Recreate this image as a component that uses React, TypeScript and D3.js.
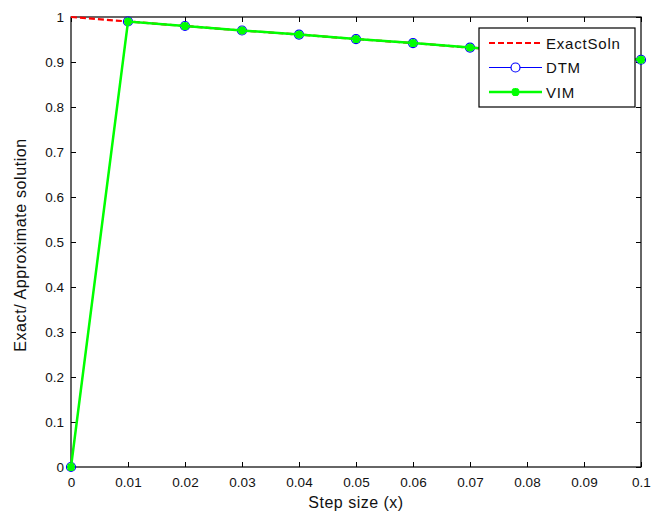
import { useEffect, useRef } from 'react';
import * as d3 from 'd3';

const stepSizes = [0, 0.01, 0.02, 0.03, 0.04, 0.05, 0.06, 0.07, 0.08, 0.09, 0.1];
const exactSoln = [1, 0.99, 0.98, 0.97, 0.961, 0.951, 0.942, 0.932, 0.923, 0.914, 0.905];
const dtmValues = [0, 0.99, 0.98, 0.97, 0.961, 0.951, 0.942, 0.932, 0.923, 0.914, 0.905];
const vimValues = [0, 0.99, 0.98, 0.97, 0.961, 0.951, 0.942, 0.932, 0.923, 0.914, 0.905];
const xTicks = [0, 0.01, 0.02, 0.03, 0.04, 0.05, 0.06, 0.07, 0.08, 0.09, 0.1];
const yTicks = [0, 0.1, 0.2, 0.3, 0.4, 0.5, 0.6, 0.7, 0.8, 0.9, 1];
const legendNames = ['ExactSoln', 'DTM', 'VIM'];

const App = () => {
    const svgRef = useRef<SVGSVGElement>(null);

    useEffect(() => {
        const svg = d3.select(svgRef.current);
        svg.selectAll('*').remove();

        const width = 664;
        const height = 513;
        const margin = { top: 17, right: 23, bottom: 46, left: 71 };
        const font = '"Liberation Sans", Arial, sans-serif';
        const ink = '#111';

        const x = d3.scaleLinear().domain([0, 0.1]).range([margin.left, width - margin.right]);
        const y = d3.scaleLinear().domain([0, 1]).range([height - margin.bottom, margin.top]);

        svg.append('rect').attr('width', width).attr('height', height).attr('fill', '#fff');

        const fmt = (d) => (d === 0 ? '0' : d3.format('~g')(d));

        // bottom + top axes (ticks point inward, matlab style)
        svg.append('g')
            .attr('transform', `translate(0,${y(0)})`)
            .call(d3.axisBottom(x).tickValues(xTicks).tickFormat(fmt).tickSizeInner(-5).tickSizeOuter(0).tickPadding(10))
            .call((g) => g.select('.domain').remove())
            .call((g) => g.selectAll('text').attr('font-family', font).attr('font-size', 13.5).attr('fill', ink));

        svg.append('g')
            .attr('transform', `translate(0,${y(1)})`)
            .call(d3.axisTop(x).tickValues(xTicks).tickFormat(() => '').tickSizeInner(-5).tickSizeOuter(0))
            .call((g) => g.select('.domain').remove());

        svg.append('g')
            .attr('transform', `translate(${x(0)},0)`)
            .call(d3.axisLeft(y).tickValues(yTicks).tickFormat(fmt).tickSizeInner(-5).tickSizeOuter(0).tickPadding(7))
            .call((g) => g.select('.domain').remove())
            .call((g) => g.selectAll('text').attr('font-family', font).attr('font-size', 13.5).attr('fill', ink));

        svg.append('g')
            .attr('transform', `translate(${x(0.1)},0)`)
            .call(d3.axisRight(y).tickValues(yTicks).tickFormat(() => '').tickSizeInner(-5).tickSizeOuter(0))
            .call((g) => g.select('.domain').remove());

        svg.append('rect')
            .attr('x', x(0))
            .attr('y', y(1))
            .attr('width', x(0.1) - x(0))
            .attr('height', y(0) - y(1))
            .attr('fill', 'none')
            .attr('stroke', '#000')
            .attr('stroke-width', 1.2);

        const line = d3
            .line<number>()
            .x((d, i) => x(stepSizes[i]))
            .y((d) => y(d));

        // exact solution
        svg.append('path')
            .datum(exactSoln)
            .attr('fill', 'none')
            .attr('stroke', '#ff0000')
            .attr('stroke-width', 2.2)
            .attr('stroke-dasharray', '6,3')
            .attr('d', line);

        // DTM
        svg.append('path')
            .datum(dtmValues)
            .attr('fill', 'none')
            .attr('stroke', '#0000ff')
            .attr('stroke-width', 1)
            .attr('d', line);

        svg.selectAll('.dtm-dot')
            .data(dtmValues)
            .enter()
            .append('circle')
            .attr('class', 'dtm-dot')
            .attr('cx', (d, i) => x(stepSizes[i]))
            .attr('cy', (d) => y(d))
            .attr('r', 4.5)
            .attr('fill', 'none')
            .attr('stroke', '#0000ff')
            .attr('stroke-width', 1.2);

        // VIM
        svg.append('path')
            .datum(vimValues)
            .attr('fill', 'none')
            .attr('stroke', '#00ff00')
            .attr('stroke-width', 2.5)
            .attr('d', line);

        const star = (g, cx, cy) => {
            const s = 4;
            const d = 3;
            g.append('path')
                .attr(
                    'd',
                    `M${cx - s},${cy}L${cx + s},${cy}M${cx},${cy - s}L${cx},${cy + s}` +
                        `M${cx - d},${cy - d}L${cx + d},${cy + d}M${cx - d},${cy + d}L${cx + d},${cy - d}`,
                )
                .attr('stroke', '#00ff00')
                .attr('stroke-width', 2.5)
                .attr('fill', 'none');
        };

        const vimDots = svg.append('g');
        vimValues.forEach((v, i) => star(vimDots, x(stepSizes[i]), y(v)));

        // legend
        const legend = svg.append('g').attr('transform', 'translate(479,28)');
        legend.append('rect')
            .attr('width', 156)
            .attr('height', 79)
            .attr('fill', '#fff')
            .attr('stroke', '#000')
            .attr('stroke-width', 1.2);

        legendNames.forEach((name, i) => {
            const row = legend.append('g').attr('transform', `translate(0,${15 + i * 24.5})`);
            const ln = row.append('line').attr('x1', 10).attr('x2', 63).attr('y1', 0).attr('y2', 0);
            if (i === 0) {
                ln.attr('stroke', '#ff0000').attr('stroke-width', 2.2).attr('stroke-dasharray', '6,3');
            } else if (i === 1) {
                ln.attr('stroke', '#0000ff').attr('stroke-width', 1);
                row.append('circle').attr('cx', 36.5).attr('cy', 0).attr('r', 4.5)
                    .attr('fill', '#fff').attr('stroke', '#0000ff').attr('stroke-width', 1.2);
            } else {
                ln.attr('stroke', '#00ff00').attr('stroke-width', 2.5);
                star(row, 36.5, 0);
            }
            row.append('text')
                .attr('x', 67)
                .attr('y', 5.5)
                .attr('font-family', font)
                .attr('font-size', 15)
                .attr('letter-spacing', 0.8)
                .attr('fill', ink)
                .text(name);
        });

        // axis labels
        svg.append('text')
            .attr('x', (x(0) + x(0.1)) / 2)
            .attr('y', 508)
            .attr('text-anchor', 'middle')
            .attr('font-family', font)
            .attr('font-size', 16)
            .attr('letter-spacing', 0.5)
            .attr('fill', ink)
            .text('Step size (x)');

        svg.append('text')
            .attr('transform', 'rotate(-90)')
            .attr('x', -245)
            .attr('y', 26)
            .attr('text-anchor', 'middle')
            .attr('font-family', font)
            .attr('font-size', 16)
            .attr('letter-spacing', 0.6)
            .attr('fill', ink)
            .text('Exact/ Approximate solution');
    }, []);

    return (
        <div>
            <svg ref={svgRef} width={664} height={513} style={{ position: 'absolute', left: 0, top: 0 }}></svg>
        </div>
    );
};

export default App;
